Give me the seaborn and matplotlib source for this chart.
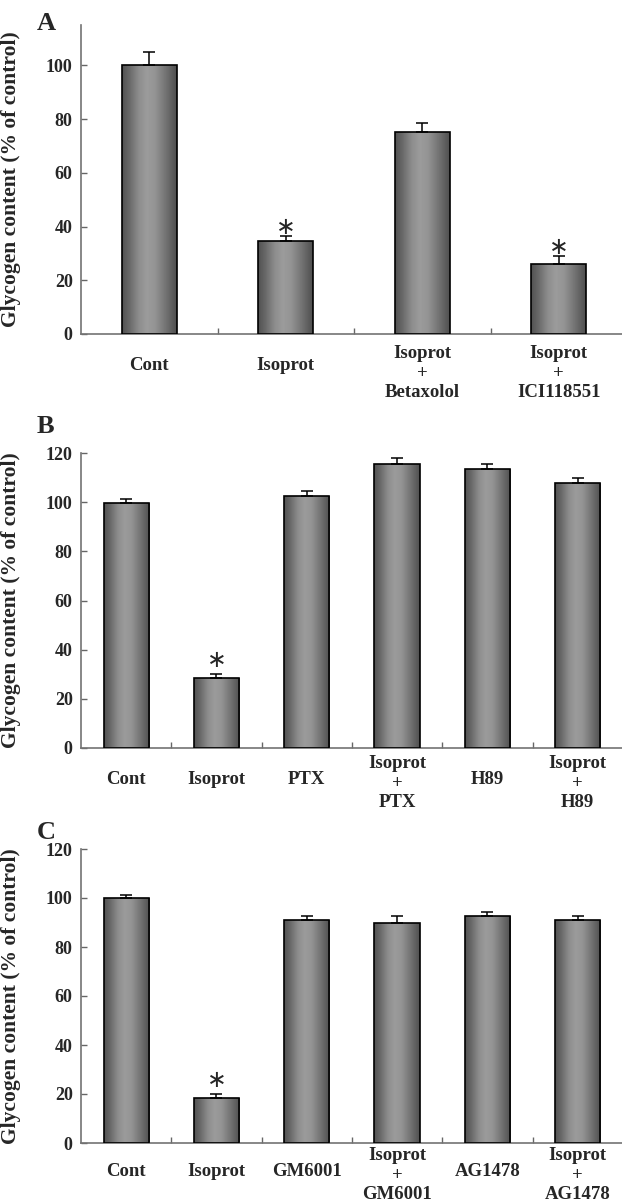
import numpy as np
import matplotlib
matplotlib.use("Agg")
import matplotlib.pyplot as plt
import matplotlib.transforms as mtransforms
import seaborn as sns

# panel A
a_labels = ["Cont", "Isoprot", "Isoprot\n+\nBetaxolol", "Isoprot\n+\nICI118551"]
a_means = [100.0, 34.6, 75.3, 25.9]
a_sem = [5.0, 1.9, 3.2, 3.1]
a_star_idx = [1, 3]
a_star_y = [39.8, 32.4]

# panel B
b_labels = ["Cont", "Isoprot", "PTX", "Isoprot\n+\nPTX", "H89", "Isoprot\n+\nH89"]
b_means = [99.8, 28.6, 102.6, 115.4, 113.3, 107.9]
b_sem = [1.4, 1.3, 2.0, 2.7, 2.1, 2.0]
b_star_idx = [1]
b_star_y = [35.9]

# panel C
c_labels = ["Cont", "Isoprot", "GM6001", "Isoprot\n+\nGM6001", "AG1478", "Isoprot\n+\nAG1478"]
c_means = [99.9, 18.4, 91.1, 89.8, 92.5, 91.1]
c_sem = [1.3, 1.4, 1.4, 2.7, 1.9, 1.4]
c_star_idx = [1]
c_star_y = [25.7]

sns.set_theme(style="white")
plt.rcParams["font.family"] = ["Liberation Serif", "DejaVu Serif"]
plt.rcParams["font.weight"] = "bold"

DPI = 100
W, H = 622, 1203
fig = plt.figure(figsize=(W / DPI, H / DPI), dpi=DPI)

# horizontal gray gradient used to fill each bar
grad_pos = [0.0, 0.12, 0.3, 0.45, 0.6, 0.8, 1.0]
grad_val = [0.32, 0.40, 0.55, 0.61, 0.58, 0.45, 0.31]
gradient = np.interp(np.linspace(0, 1, 200), grad_pos, grad_val)[None, :]


def draw_panel(rect_px, letter, letter_base_px, labels, means, sem, star_idx, star_y,
               width, ymax, yticks, xmax, single_off, multi_off):
    left, top, right, bottom = rect_px
    ax = fig.add_axes([left / W, 1 - bottom / H, (right - left) / W, (bottom - top) / H])
    sns.barplot(x=labels, y=means, width=width, color="0.55", edgecolor="black",
                linewidth=1.2, ax=ax, zorder=3)
    x = np.arange(len(labels))
    for p in ax.patches:
        p.set_facecolor("none")
        bx, by = p.get_x(), p.get_y()
        im = ax.imshow(gradient, cmap="gray", vmin=0, vmax=1, aspect="auto",
                       extent=[bx, bx + p.get_width(), by, by + p.get_height()],
                       zorder=2.5, interpolation="bilinear")
        im.set_clip_path(p)
    ax.errorbar(x, means, yerr=[np.zeros(len(means)), sem], fmt="none",
                ecolor="black", elinewidth=1.1, capsize=4.5, capthick=1.1, zorder=4)
    for i, yv in zip(star_idx, star_y):
        ax.text(x[i], yv, "∗", ha="center", va="center", fontsize=17,
                fontweight="normal", family=["DejaVu Sans"], zorder=5)

    ax.set_xlim(-0.5, xmax)
    ax.set_ylim(0, ymax)
    ax.set_yticks(yticks)
    ax.set_yticklabels([str(t) for t in yticks], fontsize=13, fontweight="bold")
    ax.tick_params(axis="y", direction="in", length=4, width=1.0, color="0.4",
                   pad=6, left=True)
    ax.set_xticks(x)
    ax.set_xticklabels([""] * len(labels))
    ax.tick_params(axis="x", which="major", length=0)
    ax.set_xticks(np.arange(0.5, len(labels) - 0.5, 1.0), minor=True)
    ax.tick_params(axis="x", which="minor", direction="in", length=4, width=1.0,
                   color="0.4", bottom=True)
    for s in ["top", "right"]:
        ax.spines[s].set_visible(False)
    for s in ["left", "bottom"]:
        ax.spines[s].set_color("0.45")
        ax.spines[s].set_linewidth(1.2)

    trans = mtransforms.blended_transform_factory(ax.transData, ax.transAxes)
    for i, lab in enumerate(labels):
        off = multi_off if "\n" in lab else single_off
        ax.annotate(lab, xy=(x[i], 0), xycoords=trans,
                    xytext=(0, -off * 72 / DPI), textcoords="offset points",
                    ha="center", va="center", fontsize=13.5, fontweight="bold",
                    linespacing=1.22, annotation_clip=False)

    ax.set_ylabel("Glycogen content (% of control)", fontsize=15.5, fontweight="bold")
    ax.yaxis.set_label_coords((21 - left) / (right - left), 0.5)
    fig.text(37 / W, 1 - letter_base_px / H, letter, fontsize=19, fontweight="bold",
             ha="left", va="baseline")
    return ax


draw_panel((81, 25, 622, 334), "A", 30, a_labels, a_means, a_sem, a_star_idx, a_star_y,
           0.4, 115, [0, 20, 40, 60, 80, 100], -0.5 + 541 / 136.5, 31, 39)
draw_panel((81, 453, 622, 748), "B", 433, b_labels, b_means, b_sem, b_star_idx, b_star_y,
           0.5, 120, [0, 20, 40, 60, 80, 100, 120], -0.5 + 541 / 90.3, 32, 35)
draw_panel((81, 849, 622, 1143), "C", 839, c_labels, c_means, c_sem, c_star_idx, c_star_y,
           0.5, 120, [0, 20, 40, 60, 80, 100, 120], -0.5 + 541 / 90.3, 28, 32)

fig.savefig("out.png", dpi=DPI)
